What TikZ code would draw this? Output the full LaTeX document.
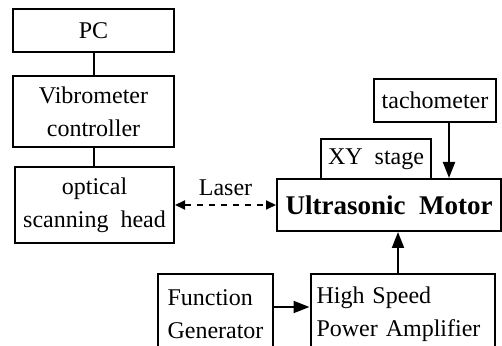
\documentclass[tikz,border=0pt]{standalone}
\usepackage{fontspec}
\setmainfont{Liberation Serif}
\usetikzlibrary{arrows.meta}
\tikzset{
    box/.style={draw, line width=1pt, inner sep=3pt, align=center},
    arr/.style={line width=1pt, -{Triangle[length=8pt,width=6pt]}},
}
\begin{document}
\begin{tikzpicture}[x=0.5pt,y=-0.5pt, font=\fontsize{12}{16.5}\selectfont]
        \useasboundingbox (0,0) rectangle (502,346);
        \clip (0,0) rectangle (502,346);

        % 左列
        \node[box, minimum width=80.5pt, minimum height=21.5pt] (pc) at (93.5,31) {PC};
        \node[box, minimum width=80.5pt, minimum height=35.5pt] (vib) at (93.5,111.5) {Vibrometer\\controller};
        \node[box, minimum width=79.5pt, minimum height=38pt] (opt) at (94.5,205) {optical\\scanning\ \ head};

        \draw[line width=1pt] (pc) -- (vib);
        \draw[line width=1pt] (vib.south) -- (vib.south |- opt.north);

        % 马达
        \node[box, minimum width=112pt, minimum height=26pt, font=\fontsize{13.5}{16}\selectfont\bfseries] (um) at (389,205) {Ultrasonic\ \ Motor};
        \node[box, minimum width=55pt, minimum height=20pt] (xy) at (376,159) {XY\ \ stage};
        \node[box, minimum width=61pt, minimum height=21.5pt] (tacho) at (435,100.5) {tachometer};

        \draw[arr] ([xshift=7pt]tacho.south) -- ([xshift=7pt]tacho.south |- um.north);

        % 激光
        \draw[line width=1pt, dashed, {Triangle[length=5pt,width=4.5pt]}-{Triangle[length=5pt,width=4.5pt]}] (opt.east) -- (um.west)
            node[midway, above=1pt] {Laser};

        % 驱动
        \node[box, minimum width=57.5pt, minimum height=40pt, align=left] (fg) at (215.5,314) {Function\\Generator};
        \node[box, minimum width=92pt, minimum height=40pt, align=left, text width=86pt] (hspa) at (402.5,314) {High Speed\\Power Amplifier};

        \draw[arr] ([yshift=3.5pt]fg.east) -- ([yshift=3.5pt]hspa.west);
        \draw[arr] ([xshift=-2.25pt]hspa.north) -- ([xshift=-2.25pt]hspa.north |- um.south);

    \end{tikzpicture}
\end{document}
